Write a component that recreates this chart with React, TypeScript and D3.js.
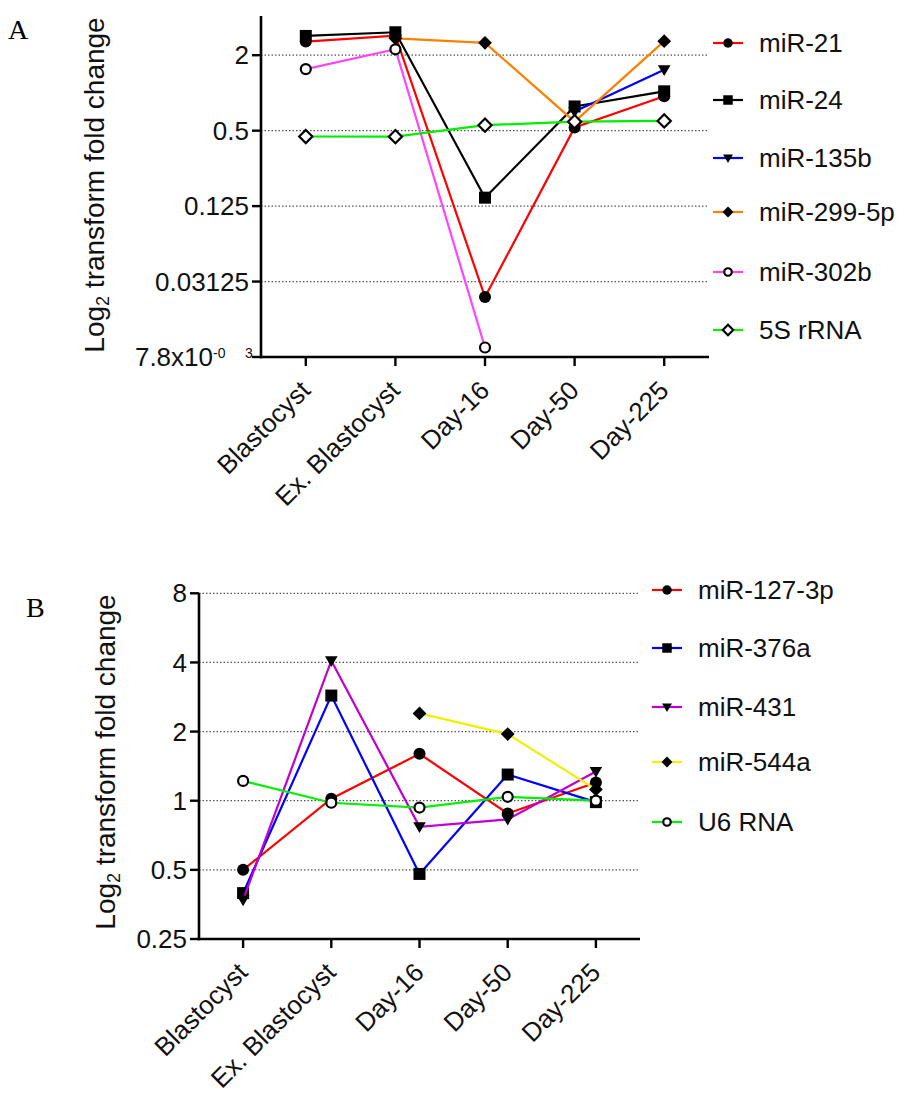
import React from 'react';
import * as d3 from 'd3';

// Developmental stages shared by both panels
const stages = ['Blastocyst', 'Ex. Blastocyst', 'Day-16', 'Day-50', 'Day-225'];

// ---- Panel A: fold change per stage ----
const miR21 = [2.57, 2.87, 0.0235, 0.53, 0.94];
const miR24 = [2.85, 3.05, 0.146, 0.78, 1.03];
const miR135b = [null, null, null, 0.71, 1.53];
const miR2995p = [null, 2.73, 2.51, 0.59, 2.59];
const miR302b = [1.55, 2.23, 0.0093, null, null];
const rRNA5S = [0.449, 0.448, 0.553, 0.59, 0.598];
const namesA = ['miR-21', 'miR-24', 'miR-135b', 'miR-299-5p', 'miR-302b', '5S rRNA'];
const ticksA = [0.03125, 0.125, 0.5, 2];
const tickLabelsA = ['0.03125', '0.125', '0.5', '2'];
const domainA: [number, number] = [0.0078125, 4];

// ---- Panel B: fold change per stage ----
const miR1273p = [0.5, 1.02, 1.6, 0.88, 1.2];
const miR376a = [0.396, 2.87, 0.48, 1.3, 0.986];
const miR431 = [0.37, 4.07, 0.77, 0.83, 1.34];
const miR544a = [null, null, 2.4, 1.95, 1.12];
const U6RNA = [1.22, 0.98, 0.934, 1.04, 1.0];
const namesB = ['miR-127-3p', 'miR-376a', 'miR-431', 'miR-544a', 'U6 RNA'];
const ticksB = [0.25, 0.5, 1, 2, 4, 8];
const tickLabelsB = ['0.25', '0.5', '1', '2', '4', '8'];
const domainB: [number, number] = [0.25, 8];

const FONT = '"Liberation Sans", Arial, Helvetica, sans-serif';

type Kind = 'dot' | 'square' | 'tri' | 'diamond' | 'ocircle' | 'odiamond';
type Series = { name: string; values: (number | null)[]; color: string; kind: Kind };

const seriesA: Series[] = [
  { name: namesA[0], values: miR21, color: '#ff0000', kind: 'dot' },
  { name: namesA[1], values: miR24, color: '#000000', kind: 'square' },
  { name: namesA[2], values: miR135b, color: '#0000ff', kind: 'tri' },
  { name: namesA[3], values: miR2995p, color: '#ff8000', kind: 'diamond' },
  { name: namesA[4], values: miR302b, color: '#ff44ff', kind: 'ocircle' },
  { name: namesA[5], values: rRNA5S, color: '#00ee00', kind: 'odiamond' },
];

const seriesB: Series[] = [
  { name: namesB[0], values: miR1273p, color: '#ff0000', kind: 'dot' },
  { name: namesB[1], values: miR376a, color: '#0000ff', kind: 'square' },
  { name: namesB[2], values: miR431, color: '#c000d0', kind: 'tri' },
  { name: namesB[3], values: miR544a, color: '#f0f000', kind: 'diamond' },
  { name: namesB[4], values: U6RNA, color: '#00ee00', kind: 'ocircle' },
];

function Marker({ kind, x, y, s }: { kind: Kind; x: number; y: number; s: number }) {
  const h = s / 2;
  switch (kind) {
    case 'dot':
      return <circle cx={x} cy={y} r={h} fill="#000" />;
    case 'square':
      return <rect x={x - h} y={y - h} width={s} height={s} fill="#000" />;
    case 'tri':
      return (
        <polygon
          points={`${x - h * 1.05},${y - h * 0.75} ${x + h * 1.05},${y - h * 0.75} ${x},${y + h * 1.05}`}
          fill="#000"
        />
      );
    case 'diamond':
      return <polygon points={`${x},${y - h * 1.15} ${x + h * 1.15},${y} ${x},${y + h * 1.15} ${x - h * 1.15},${y}`} fill="#000" />;
    case 'ocircle':
      return <circle cx={x} cy={y} r={h - 1} fill="#fff" stroke="#000" strokeWidth={2.2} />;
    case 'odiamond':
      return (
        <polygon
          points={`${x},${y - h * 1.1} ${x + h * 1.1},${y} ${x},${y + h * 1.1} ${x - h * 1.1},${y}`}
          fill="#fff"
          stroke="#000"
          strokeWidth={2.2}
        />
      );
  }
  return null;
}

type PanelProps = {
  series: Series[];
  domain: [number, number];
  ticks: number[];
  tickLabels: string[];
  axisX: number; // y-axis position
  axisRight: number;
  yTop: number; // top of the y axis line
  yMaxPx: number; // pixel of domain max
  yBottom: number; // x-axis position
  legendX: number;
  legendY: number[];
  titleX: number;
  titleY: number;
  letter: string;
  letterX: number;
  letterY: number;
  gridTicks: number[];
  extraBottomLabel?: boolean;
};

function Panel(p: PanelProps) {
  const x = d3
    .scalePoint<string>()
    .domain(stages)
    .range([p.axisX, p.axisRight])
    .padding(0.5);
  const y = d3.scaleLog().base(2).domain(p.domain).range([p.yBottom, p.yMaxPx]);

  const line = d3
    .line<number | null>()
    .defined((v) => v != null)
    .x((_, i) => x(stages[i]) as number)
    .y((v) => y(v as number));

  return (
    <g>
      {/* panel letter */}
      <text x={p.letterX} y={p.letterY} fontFamily='"Liberation Serif", "Times New Roman", serif' fontSize={28} fill="#000">
        {p.letter}
      </text>

      {/* dotted gridlines */}
      {p.gridTicks.map((t) => (
        <line
          key={'g' + t}
          x1={p.axisX}
          x2={p.axisRight}
          y1={y(t)}
          y2={y(t)}
          stroke="#555"
          strokeWidth={1.3}
          strokeDasharray="1.5 2"
        />
      ))}

      {/* axes */}
      <line x1={p.axisX} x2={p.axisX} y1={p.yTop} y2={p.yBottom + 1.2} stroke="#000" strokeWidth={2.6} />
      <line x1={p.axisX - 1.2} x2={p.axisRight} y1={p.yBottom} y2={p.yBottom} stroke="#000" strokeWidth={2.6} />

      {/* y ticks and labels */}
      {p.ticks.map((t, i) => (
        <g key={'yt' + t}>
          <line x1={p.axisX - 9} x2={p.axisX} y1={y(t)} y2={y(t)} stroke="#000" strokeWidth={2.4} />
          <text
            x={p.axisX - 12}
            y={y(t)}
            dy="0.35em"
            textAnchor="end"
            fontFamily={FONT}
            fontSize={26}
            fill="#111"
          >
            {p.tickLabels[i]}
          </text>
        </g>
      ))}
      {p.extraBottomLabel && (
        <g>
          <line x1={p.axisX - 9} x2={p.axisX} y1={p.yBottom} y2={p.yBottom} stroke="#000" strokeWidth={2.4} />
          <text x={p.axisX - 48} y={p.yBottom} dy="0.35em" textAnchor="end" fontFamily={FONT} fontSize={26} fill="#111">
            7.8x10
          </text>
          <text x={p.axisX - 48} y={p.yBottom} dy="0.05em" fontFamily={FONT} fontSize={14} fill="#111">
            -0
          </text>
          <text x={p.axisX - 16} y={p.yBottom} dy="0.05em" fontFamily={FONT} fontSize={14} fill="#111">
            3
          </text>
        </g>
      )}

      {/* x ticks and rotated labels */}
      {stages.map((s) => {
        const cx = x(s) as number;
        return (
          <g key={'xt' + s}>
            <line x1={cx} x2={cx} y1={p.yBottom} y2={p.yBottom + 9} stroke="#000" strokeWidth={2.4} />
            <text
              transform={`translate(${cx + 6},${p.yBottom + 35}) rotate(-45)`}
              textAnchor="end"
              fontFamily={FONT}
              fontSize={26}
              fill="#111"
            >
              {s}
            </text>
          </g>
        );
      })}

      {/* y axis title */}
      <text
        transform={`translate(${p.titleX},${p.titleY}) rotate(-90)`}
        textAnchor="middle"
        fontFamily={FONT}
        fontSize={28}
        fill="#111"
      >
        Log
        <tspan fontSize={18} dy="0.3em">2</tspan>
        <tspan dy="-0.2em"> transform fold change</tspan>
      </text>

      {/* series: line then markers */}
      {p.series.map((s) => (
        <g key={s.name}>
          <path d={line(s.values) || ''} fill="none" stroke={s.color} strokeWidth={2.2} />
          {s.values.map((v, i) =>
            v == null ? null : <Marker key={i} kind={s.kind} x={x(stages[i]) as number} y={y(v)} s={12} />
          )}
        </g>
      ))}

      {/* legend */}
      {p.series.map((s, i) => {
        const ly = p.legendY[i];
        return (
          <g key={'lg' + s.name}>
            <line x1={p.legendX} x2={p.legendX + 30} y1={ly} y2={ly} stroke={s.color} strokeWidth={2.2} />
            <Marker kind={s.kind} x={p.legendX + 15} y={ly} s={9.5} />
            <text x={p.legendX + 46} y={ly} dy="0.35em" fontFamily={FONT} fontSize={26} fill="#111">
              {s.name}
            </text>
          </g>
        );
      })}
    </g>
  );
}

export default function App() {
  return (
    <svg
      width={906}
      height={1107}
      viewBox="0 0 906 1107"
      style={{ position: 'absolute', left: 0, top: 0, background: '#fff' }}
    >
      <rect width={906} height={1107} fill="#fff" />
      <Panel
        series={seriesA}
        domain={domainA}
        ticks={ticksA}
        tickLabels={tickLabelsA}
        gridTicks={ticksA}
        axisX={261}
        axisRight={709}
        yTop={16}
        yMaxPx={17.5}
        yBottom={357}
        legendX={713}
        legendY={[43, 100, 158, 212, 272, 330]}
        titleX={104}
        titleY={185}
        letter="A"
        letterX={8}
        letterY={39}
        extraBottomLabel
      />
      <Panel
        series={seriesB}
        domain={domainB}
        ticks={ticksB}
        tickLabels={tickLabelsB}
        gridTicks={[0.5, 1, 2, 4, 8]}
        axisX={199}
        axisRight={640}
        yTop={593}
        yMaxPx={593.3}
        yBottom={939}
        legendX={652}
        legendY={[590, 648, 707, 762, 822]}
        titleX={115}
        titleY={762}
        letter="B"
        letterX={26}
        letterY={617}
      />
    </svg>
  );
}
